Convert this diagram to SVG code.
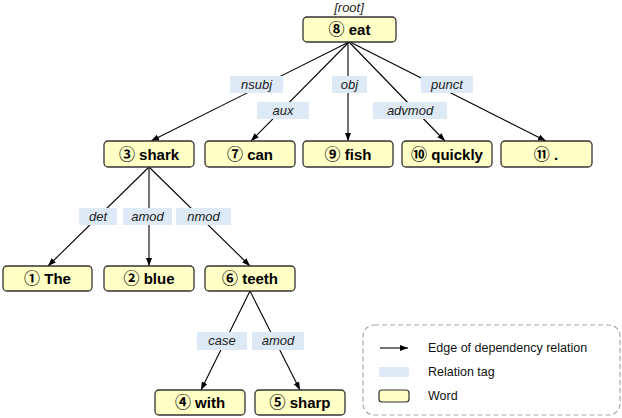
<svg xmlns="http://www.w3.org/2000/svg" width="622" height="418" viewBox="0 0 622 418">
<defs>
<marker id="ah" viewBox="0 0 8 6" refX="8" refY="3" markerWidth="8" markerHeight="6" markerUnits="userSpaceOnUse" orient="auto">
<path d="M0,0 L8,3 L0,6 Z" fill="#000"/>
</marker>
<style>
.node rect{fill:#ffffc6;stroke:#333;stroke-width:1.3}
.node text{font-family:"Liberation Sans",Arial,sans-serif;font-weight:bold;font-size:15px;fill:#000;text-anchor:middle}
.node .c{font-family:"Noto Sans CJK SC","Noto Sans CJK JP",sans-serif;font-weight:bold;font-size:16px}
.tag rect{fill:#dde9f5;stroke:none}
.tag text{font-family:"Liberation Sans",Arial,sans-serif;font-style:italic;font-size:13px;fill:#222;text-anchor:middle}
.edges line{stroke:#000;stroke-width:1.1;marker-end:url(#ah)}
.lg{font-family:"Liberation Sans",Arial,sans-serif;font-size:12.5px;fill:#111}
</style>
</defs>
<rect width="622" height="418" fill="#fff"/>
<g id="connectors" class="edges">
<line x1="349" y1="42" x2="151" y2="141"/>
<line x1="349" y1="42" x2="251" y2="141"/>
<line x1="348" y1="42" x2="348" y2="141"/>
<line x1="349" y1="42" x2="445" y2="141"/>
<line x1="350" y1="42" x2="546" y2="141"/>
<line x1="149" y1="167" x2="48" y2="266"/>
<line x1="149" y1="167" x2="149" y2="266"/>
<line x1="149" y1="167" x2="250" y2="266"/>
<line x1="250" y1="291" x2="201" y2="390"/>
<line x1="250" y1="291" x2="300" y2="390"/>
</g>
<g id="tags">
<g class="tag"><rect x="230" y="76" width="53" height="17"/><text x="256.5" y="89">nsubj</text></g>
<g class="tag"><rect x="257" y="102" width="52" height="17"/><text x="283" y="115">aux</text></g>
<g class="tag"><rect x="332" y="76" width="35" height="17"/><text x="349.5" y="89">obj</text></g>
<g class="tag"><rect x="373" y="102" width="74" height="17"/><text x="410" y="115">advmod</text></g>
<g class="tag"><rect x="421" y="76" width="52" height="17"/><text x="447" y="89">punct</text></g>
<g class="tag"><rect x="79" y="208" width="38" height="17"/><text x="98" y="221">det</text></g>
<g class="tag"><rect x="123" y="208" width="49" height="17"/><text x="147.5" y="221">amod</text></g>
<g class="tag"><rect x="176" y="208" width="55" height="17"/><text x="203.5" y="221">nmod</text></g>
<g class="tag"><rect x="197" y="332" width="50" height="18"/><text x="222" y="345">case</text></g>
<g class="tag"><rect x="252" y="332" width="52" height="18"/><text x="278" y="345">amod</text></g>
</g>
<text x="349" y="12" style="font-family:'Liberation Sans',Arial,sans-serif;font-style:italic;font-size:13px;fill:#222" text-anchor="middle">[root]</text>
<g id="n8" class="node"><rect x="303" y="17" width="93" height="25" rx="4"/><text x="349.5" y="35"><tspan class="c">⑧</tspan> eat</text></g>
<g id="n3" class="node"><rect x="104" y="141" width="90" height="26" rx="4"/><text x="149" y="160"><tspan class="c">③</tspan> shark</text></g>
<g id="n7" class="node"><rect x="205" y="141" width="90" height="26" rx="4"/><text x="250" y="160"><tspan class="c">⑦</tspan> can</text></g>
<g id="n9" class="node"><rect x="303" y="141" width="90" height="26" rx="4"/><text x="348" y="160"><tspan class="c">⑨</tspan> fish</text></g>
<g id="n10" class="node"><rect x="402" y="141" width="90" height="26" rx="4"/><text x="447" y="160"><tspan class="c">⑩</tspan> quickly</text></g>
<g id="n11" class="node"><rect x="501" y="141" width="91" height="26" rx="4"/><text x="546" y="160"><tspan class="c">⑪</tspan> .</text></g>
<g id="n1" class="node"><rect x="3" y="266" width="89" height="25" rx="4"/><text x="47.5" y="284"><tspan class="c">①</tspan> The</text></g>
<g id="n2" class="node"><rect x="104" y="266" width="90" height="25" rx="4"/><text x="149" y="284"><tspan class="c">②</tspan> blue</text></g>
<g id="n6" class="node"><rect x="205" y="266" width="90" height="25" rx="4"/><text x="250" y="284"><tspan class="c">⑥</tspan> teeth</text></g>
<g id="n4" class="node"><rect x="155" y="390" width="90" height="25" rx="4"/><text x="200" y="408"><tspan class="c">④</tspan> with</text></g>
<g id="n5" class="node"><rect x="255" y="390" width="90" height="25" rx="4"/><text x="300" y="408"><tspan class="c">⑤</tspan> sharp</text></g>
<g id="legend">
<rect x="363" y="325" width="257" height="90" rx="11" fill="none" stroke="#aaa" stroke-width="1.2" stroke-dasharray="5,3"/>
<line x1="380" y1="348" x2="408" y2="348" stroke="#000" stroke-width="1.1" marker-end="url(#ah)"/>
<text class="lg" x="428" y="352">Edge of dependency relation</text>
<rect x="379" y="367" width="30" height="10" fill="#dde9f5"/>
<text class="lg" x="428" y="376">Relation tag</text>
<rect x="379" y="390" width="30" height="12" rx="3" fill="#ffffc6" stroke="#333" stroke-width="1.2"/>
<text class="lg" x="428" y="400">Word</text>
</g>
</svg>
